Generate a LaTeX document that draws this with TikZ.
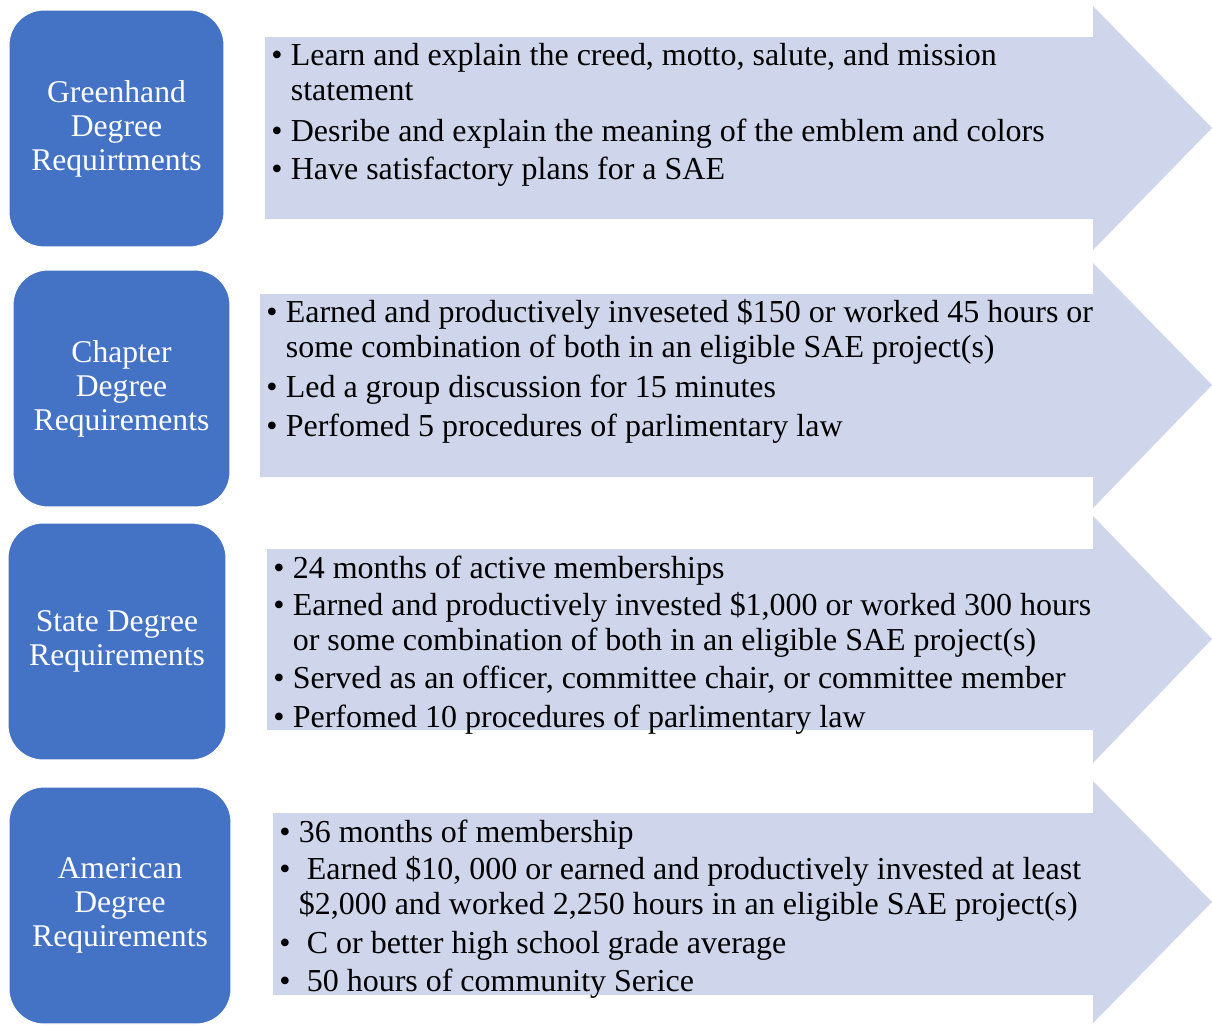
\documentclass[tikz,border=0pt]{standalone}
\usepackage{fontspec}
\setmainfont{Liberation Serif}

\definecolor{boxblue}{RGB}{68,114,196}
\definecolor{bandgray}{RGB}{207,213,234}

\newcommand\bul{\makebox[0.39cm][l]{\textbullet}}
\newcommand\ind{\hspace*{0.39cm}}

\begin{document}
\begin{tikzpicture}[
  x=0.02cm,
  y=-0.02cm,
  degree/.style={
    fill=boxblue,
    draw=white,
    line width=0.6pt,
    rounded corners=0.7cm,
    text=white,
    align=center,
    inner sep=0pt,
    minimum height=4.74cm,
    font=\fontsize{18}{19.4}\selectfont
  },
  band/.style={
    fill=bandgray
  },
  item/.style={
    anchor=base west,
    align=left,
    inner sep=0pt,
    font=\fontsize{18.2}{19.4}\selectfont
  }
]

  % bands behind the lists
  \fill[band]
    (265,37) -- (1093,37) -- (1093,6) -- (1212,128)
    -- (1093,250) -- (1093,219) -- (265,219) -- cycle;

  \fill[band]
    (260,294) -- (1093,294) -- (1093,263) -- (1212,385)
    -- (1093,508) -- (1093,477) -- (260,477) -- cycle;

  \fill[band]
    (267,549) -- (1093,549) -- (1093,516) -- (1212,639)
    -- (1093,763) -- (1093,730) -- (267,730) -- cycle;

  \fill[band]
    (273,813) -- (1093,813) -- (1093,781) -- (1212,902)
    -- (1093,1023) -- (1093,995) -- (273,995) -- cycle;

  % degree boxes
  \node[degree, minimum width=4.30cm] (greenhand) at (116.5,128.5)
    {Greenhand\\Degree\\Requirtments};

  \node[degree, minimum width=4.34cm] (chapter) at (121.5,388.5)
    {Chapter\\Degree\\Requirements};

  \node[degree, minimum width=4.36cm] (state) at (117,641.5)
    {State Degree\\Requirements};

  \node[degree, minimum width=4.44cm] (american) at (120,905.5)
    {American\\Degree\\Requirements};

  % Greenhand (base = last line)
  \node[item] (g1) at (271,100)
    {\bul Learn and explain the creed, motto, salute, and mission\\
     \ind statement};
  \node[item] (g2) at (271,141)
    {\bul Desribe and explain the meaning of the emblem and colors};
  \node[item] (g3) at (271,179)
    {\bul Have satisfactory plans for a SAE};

  % Chapter
  \node[item] (c1) at (266,357)
    {\bul Earned and productively inveseted \$150 or worked 45 hours or\\
     \ind some combination of both in an eligible SAE project(s)};
  \node[item] (c2) at (266,397)
    {\bul Led a group discussion for 15 minutes};
  \node[item] (c3) at (266,436)
    {\bul Perfomed 5 procedures of parlimentary law};

  % State
  \node[item] (s1) at (273,578)
    {\bul 24 months of active memberships};
  \node[item] (s2) at (273,650)
    {\bul Earned and productively invested \$1,000 or worked 300 hours\\
     \ind or some combination of both in an eligible SAE project(s)};
  \node[item] (s3) at (273,688)
    {\bul Served as an officer, committee chair, or committee member};
  \node[item] (s4) at (273,727)
    {\bul Perfomed 10 procedures of parlimentary law};

  % American
  \node[item] (a1) at (279,842)
    {\bul 36 months of membership};
  \node[item] (a2) at (279,914)
    {\bul\ Earned \$10, 000 or earned and productively invested at least\\
     \ind \$2,000 and worked 2,250 hours in an eligible SAE project(s)};
  \node[item] (a3) at (279,953)
    {\bul\ C or better high school grade average};
  \node[item] (a4) at (279,991)
    {\bul\ 50 hours of community Serice};

  \path[use as bounding box]
    (0,0) rectangle (1212,1022);

\end{tikzpicture}
\end{document}
